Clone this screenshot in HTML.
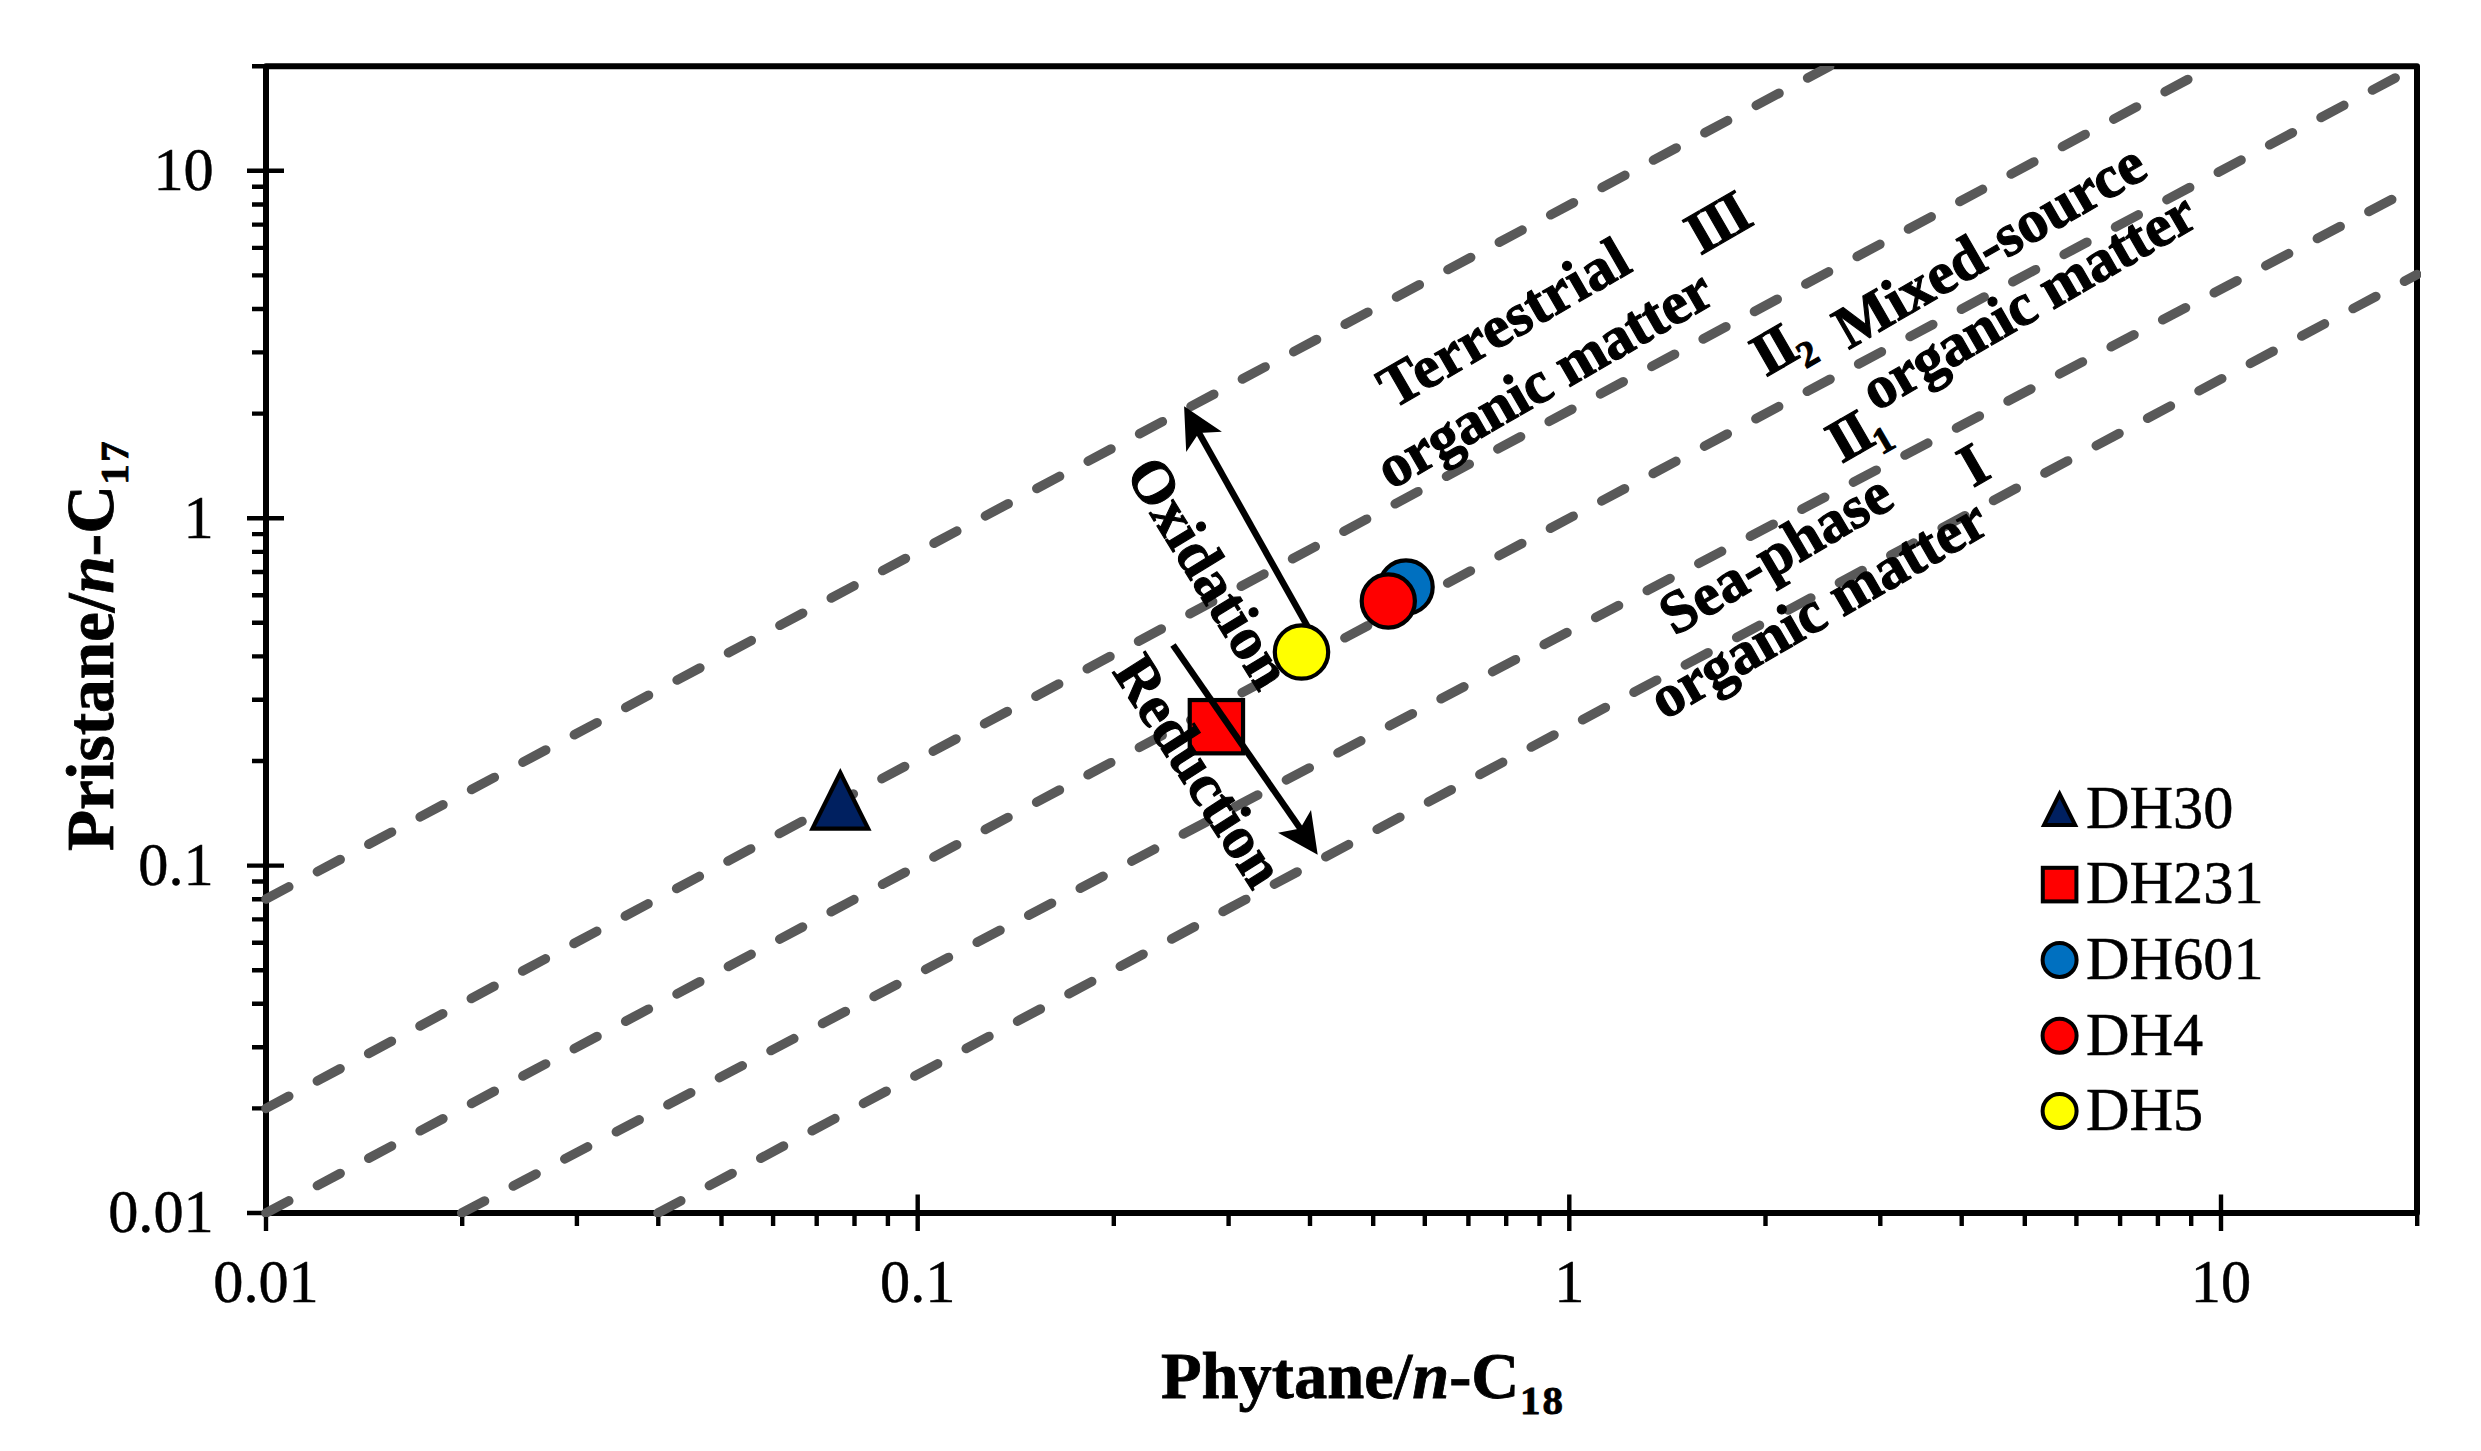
<!DOCTYPE html>
<html lang="en"><head><meta charset="utf-8"><title>Pristane/n-C17 vs Phytane/n-C18</title>
<style>html,body{margin:0;padding:0;background:#fff;overflow:hidden}svg{display:block}text{font-family:"Liberation Serif","Times New Roman",serif;fill:#000}.tk{font-size:60.3px;stroke:#000;stroke-width:0.5px}.b{font-weight:bold;font-size:60.3px;stroke:#000;stroke-width:1.1px}.ti{font-weight:bold;font-size:67.2px;stroke:#000;stroke-width:0.8px}</style></head><body>
<svg width="2481" height="1451" viewBox="0 0 2481 1451">
<rect width="2481" height="1451" fill="#fff"/>
<defs><clipPath id="pa"><rect x="261.0" y="66.0" width="2160.0" height="1151.0"/></clipPath></defs>
<rect x="266.0" y="66.3" width="2151.0" height="1146.7" fill="none" stroke="#000" stroke-width="6" stroke-linejoin="round"/>
<path d="M247 1213.0H284M266.0 1194.5V1231M252 1108.4H266M462.2 1213V1226M252 1047.2H266M576.9 1213V1226M252 1003.8H266M658.3 1213V1226M252 970.2H266M721.5 1213V1226M252 942.7H266M773.1 1213V1226M252 919.4H266M816.7 1213V1226M252 899.3H266M854.5 1213V1226M252 881.5H266M887.9 1213V1226M247 865.6H284M917.7 1194.5V1231M252 761.0H266M1113.8 1213V1226M252 699.8H266M1228.6 1213V1226M252 656.4H266M1310.0 1213V1226M252 622.8H266M1373.2 1213V1226M252 595.3H266M1424.8 1213V1226M252 572.0H266M1468.4 1213V1226M252 551.9H266M1506.2 1213V1226M252 534.1H266M1539.5 1213V1226M247 518.2H284M1569.3 1194.5V1231M252 413.6H266M1765.5 1213V1226M252 352.4H266M1880.3 1213V1226M252 309.0H266M1961.7 1213V1226M252 275.4H266M2024.8 1213V1226M252 247.9H266M2076.4 1213V1226M252 224.6H266M2120.1 1213V1226M252 204.5H266M2157.9 1213V1226M252 186.7H266M2191.2 1213V1226M247 170.8H284M2221.0 1194.5V1231M252 66.2H266M2417.2 1213V1226" stroke="#000" stroke-width="4.4" fill="none"/>
<g clip-path="url(#pa)" stroke="#595959" stroke-width="9.5" stroke-linecap="round" stroke-dasharray="25.8 32.42" fill="none">
<path d="M266.0 899.0L1829.6 66.3"/>
<path d="M266.0 1108.4L2212.4 66.3"/>
<path d="M266.0 1213.0L2417.0 66.3"/>
<path d="M461.7 1213.0L2417.0 186.2"/>
<path d="M658.0 1213.0L2417.0 274.5"/>
</g>
<text class="tk" x="213.7" y="1232.4" text-anchor="end">0.01</text>
<text class="tk" x="266.0" y="1302.4" text-anchor="middle">0.01</text>
<text class="tk" x="213.7" y="885.0" text-anchor="end">0.1</text>
<text class="tk" x="917.7" y="1302.4" text-anchor="middle">0.1</text>
<text class="tk" x="213.7" y="537.6" text-anchor="end">1</text>
<text class="tk" x="1569.3" y="1302.4" text-anchor="middle">1</text>
<text class="tk" x="213.7" y="190.2" text-anchor="end">10</text>
<text class="tk" x="2221.0" y="1302.4" text-anchor="middle">10</text>
<text class="ti" style="font-size:66.5px" x="1161" y="1397.7">Phytane/<tspan font-style="italic">n</tspan>-C<tspan font-size="41" letter-spacing="2.2" dx="0.5" dy="16.5">18</tspan></text>
<text class="ti" transform="translate(112.7 851) rotate(-90)">Pristane/<tspan font-style="italic">n</tspan>-C<tspan font-size="41" letter-spacing="2.2" dx="0.5" dy="15.5">17</tspan></text>
<rect x="1189.75" y="700.05" width="53.30" height="53.30" fill="#FF0000" stroke="#000" stroke-width="4.2"/>
<text class="b" letter-spacing="0.4" transform="translate(1392.9 409.6) rotate(-30)">Terrestrial</text>
<text class="b" letter-spacing="-3" transform="translate(1700.2 255.7) rotate(-30)">III</text>
<text class="b" letter-spacing="-0.5" transform="translate(1391 490.2) rotate(-30)">organic matter</text>
<text class="b" letter-spacing="0" transform="translate(1765.7 377.6) rotate(-30)"><tspan letter-spacing="-4.5">II</tspan><tspan font-size="37" dx="1" dy="12.5">2</tspan></text>
<text class="b" letter-spacing="-0.2" transform="translate(1848.4 349.9) rotate(-30)">Mixed-source</text>
<text class="b" letter-spacing="0" transform="translate(1841.5 464) rotate(-30)"><tspan letter-spacing="-4.5">II</tspan><tspan font-size="37" dx="1" dy="12.5">1</tspan></text>
<text class="b" letter-spacing="-0.65" transform="translate(1876 412) rotate(-30)">organic matter</text>
<text class="b" letter-spacing="0" transform="translate(1674.5 636.4) rotate(-30.5)">Sea-phase</text>
<text class="b" letter-spacing="0" transform="translate(1972.9 487.9) rotate(-30)">I</text>
<text class="b" letter-spacing="-0.4" transform="translate(1664.3 720.4) rotate(-30)">organic matter</text>
<text class="b" letter-spacing="0" transform="translate(1124.5 473) rotate(58.5)">Oxidation</text>
<text class="b" letter-spacing="-0.4" transform="translate(1111.5 671.5) rotate(57.3)">Reduction</text>
<g stroke="#000" stroke-width="6.5" fill="none"><path d="M1308.4 628L1196.5 428.5"/><path d="M1173 645L1302 831"/></g>
<polygon points="1184.1,406.3 1221.9,431.7 1198.8,432.9 1186.2,451.9" fill="#000"/>
<polygon points="1317.7,854.7 1311,810 1300.3,828.6 1278,832.8" fill="#000"/>
<polygon points="840.3,768.1 871.55,830.8 809.05,830.8" fill="#000"/>
<polygon points="840.3,777.52 864.76,826.5999999999999 815.84,826.5999999999999" fill="#002060"/>
<circle cx="1406" cy="587" r="26.70" fill="#0070C0" stroke="#000" stroke-width="4.2"/>
<circle cx="1388.3" cy="601" r="26.60" fill="#FF0000" stroke="#000" stroke-width="4.2"/>
<circle cx="1301.5" cy="652" r="26.70" fill="#FFFF00" stroke="#000" stroke-width="4.2"/>
<polygon points="2059.6,789.5 2078.4,827.1 2040.8,827.1" fill="#000"/>
<polygon points="2059.6,798.44 2071.93,823.1 2047.27,823.1" fill="#002060"/>
<rect x="2042.80" y="867.80" width="33.60" height="33.60" fill="#FF0000" stroke="#000" stroke-width="4"/>
<circle cx="2059.6" cy="960" r="17.00" fill="#0070C0" stroke="#000" stroke-width="4"/>
<circle cx="2059.6" cy="1035.7" r="17.00" fill="#FF0000" stroke="#000" stroke-width="4"/>
<circle cx="2059.6" cy="1111" r="17.00" fill="#FFFF00" stroke="#000" stroke-width="4"/>
<text class="tk" x="2086" y="828">DH30</text>
<text class="tk" x="2086" y="903.3">DH231</text>
<text class="tk" x="2086" y="978.5">DH601</text>
<text class="tk" x="2086" y="1054.6">DH4</text>
<text class="tk" x="2086" y="1129.9">DH5</text>
</svg></body></html>
